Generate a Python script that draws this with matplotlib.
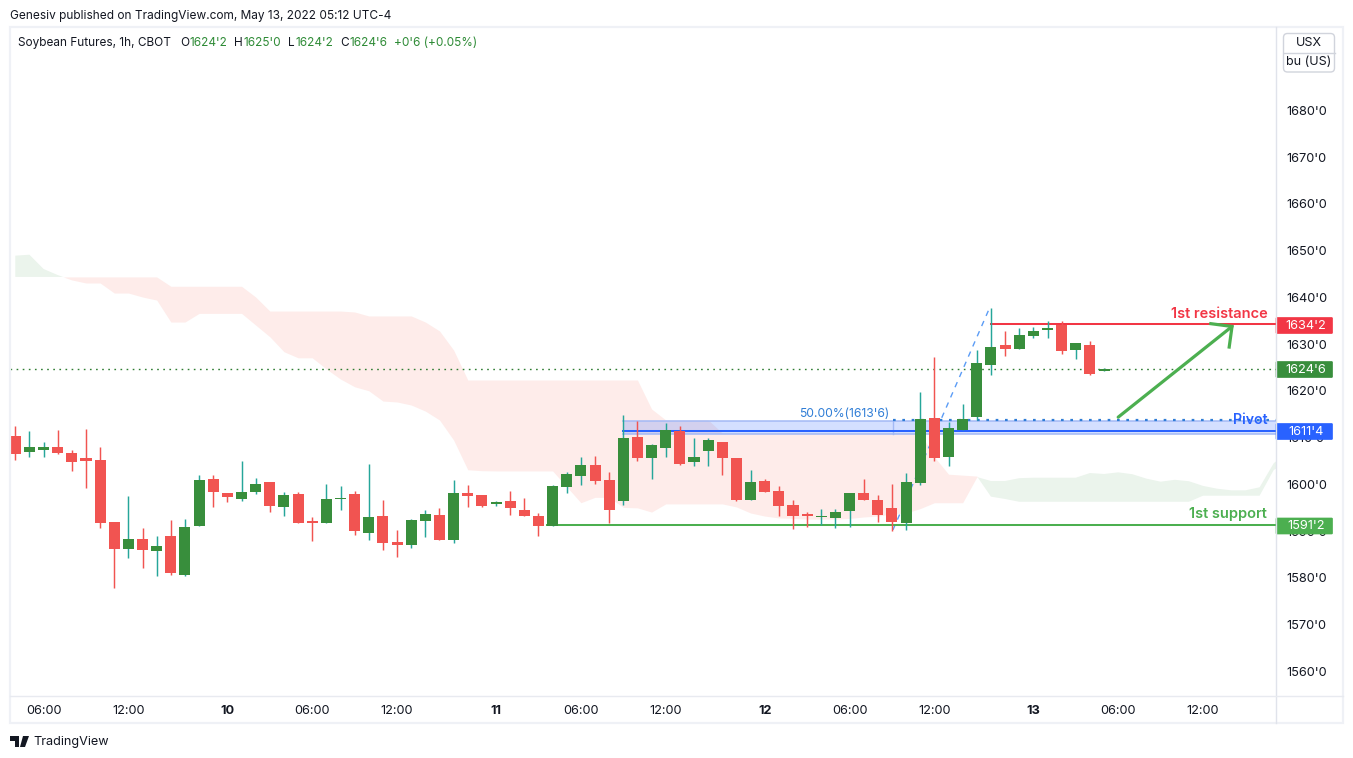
import matplotlib
matplotlib.use("Agg")
import matplotlib.pyplot as plt
from matplotlib.patches import Rectangle, FancyBboxPatch, Polygon
import numpy as np

plt.rcParams['font.family'] = ['Inter', 'DejaVu Sans']

# --- candles (price in cents) ---
opens = [1610.4,1607,1607.4,1608,1606.75,1605.7,1605.25,1592,1586.2,1588.35,1585.8,1589,1580.65,1591.1,1601.2,1598.2,1596.9,1598.4,1600.5,1595.2,1598,1592.2,
         1591.75,1596.9,1598,1589.6,1593.3,1587.7,1587.05,1592.2,1593.5,1588.1,1598.2,1597.75,1595.8,1596.5,1594.55,1593.3,1591.1,1599.45,1601.8,1604.2,1601,1596.45,
         1610.15,1605.65,1607.8,1611.45,1604.8,1607.15,1609.1,1605.65,1596.7,1600.75,1598.6,1595.6,1593.7,1593.05,1592.85,1594.3,1598.2,1596.7,1595,1591.75,
         1600.35,1614.25,1605.9,1611.65,1614.45,1625.55,1629.85,1629,1631.75,1633.05,1634.1,1628.75,1629.85,1624.25]
highs = [1612.5,1611.45,1609.1,1611.65,1607.4,1611.9,1608,1592,1597.5,1590.7,1589,1592.4,1592.6,1602,1602,1598.2,1605,1601.4,1600.5,1598.4,1598.4,1593,
         1600.1,1599.7,1598.6,1604.4,1596.7,1590.25,1592.6,1594.55,1595,1601,1599.9,1597.75,1596.5,1598.6,1597.1,1593.9,1599.9,1602.7,1605.9,1606.1,1602.7,1614.85,
         1613.6,1608.65,1613.15,1612.5,1609.95,1609.95,1609.1,1605.65,1603.1,1601.15,1599.65,1596.7,1594.1,1594.75,1594.75,1598.2,1601.15,1597.75,1600.1,1602.45,
         1619.8,1627.3,1613.4,1617.2,1628.75,1637.75,1632.85,1633.5,1633.7,1635,1635,1630.25,1630.7,1625]
lows = [1605.25,1605.9,1605.9,1606.5,1602.9,1599.25,1590.7,1577.9,1584.3,1582.1,1580.4,1580.65,1580.4,1591.1,1595.2,1596.25,1596.5,1598,1594.1,1593.3,1591.75,1587.9,
        1591.75,1594.55,1589.2,1588.1,1586,1584.5,1586.4,1588.8,1588.1,1587.5,1595.2,1595.2,1595.4,1593.5,1593.3,1589,1591.1,1598.2,1599.9,1600.1,1591.75,1595.6,
        1605,1601.15,1605.9,1604.15,1603.95,1603.95,1602,1596.45,1596.7,1598.4,1593.25,1590.5,1590.9,1591.35,1590.7,1590.9,1596.7,1592,1590.05,1590.25,
        1599.9,1605,1603.95,1611.65,1613.8,1623.4,1627.5,1629,1631.35,1631.35,1627.9,1626.85,1623.4,1624.25]
closes = [1606.6,1608,1608,1606.75,1604.8,1605,1591.75,1586.2,1588.35,1586,1586.85,1581.1,1590.9,1601,1598.4,1597.3,1598.4,1600.1,1595.4,1597.75,1591.75,1591.75,
          1596.9,1597.1,1590.05,1593,1587.5,1587.05,1592.4,1593.7,1588.1,1598.2,1597.55,1595.4,1596.25,1595,1593.3,1591.1,1599.7,1602.25,1604.2,1600.75,1594.55,1609.95,
          1605.65,1608.45,1611.65,1604.4,1605.9,1609.5,1605.65,1596.7,1600.55,1598.4,1595.4,1593.25,1593.25,1593.2,1594.1,1598.2,1596.7,1593.5,1592,1600.55,
          1614,1605.65,1612.1,1614,1626,1629.4,1629,1632,1632.85,1633.5,1628.55,1630.25,1623.65,1624.75]

# --- Ichimoku spans ---
span_a = [1648.95,1649.15,1646.1,1644.8,1643.75,1643.1,1643.1,1640.95,1640.95,1640.1,1639.45,1634.75,1634.75,1636.6,1636.6,1636.6,1636.6,1634.1,1631.6,1628.4,1627.1,1627.1,
          1624.7,1622.55,1620.9,1620.05,1617.85,1617.65,1617,1615.7,1613.8,1609.5,1603.15,1602.95,1602.9,1602.9,1602.9,1602.9,1602.9,1599.5,1596.1,1597.25,1597.25,1595.1,
          1595,1594.1,1595.85,1595.85,1595.85,1595.85,1595.85,1595.2,1593.9,1593.25,1592.85,1592.75,1592.6,1592.6,1592.6,1592.75,1593.05,1593.25,1593.7,1593.9,
          1594.85,1596.1,1596.1,1596.1,1601.6,1600.75,1600.75,1601.35,1601.45,1601.45,1601.45,1601.45,1602.45,1602.25,1602.6,1602.2,1601.25,1600.6,1601,1600.7,
          1599.7,1599.1,1598.75,1598.75,1599.4,1604.55,1606.95]
span_b = [1644.4,1644.4,1644.4,1644.4,1644.4,1644.4,1644.4,1644.4,1644.4,1644.4,1644.4,1642.4,1642.4,1642.4,1642.4,1642.4,1642.4,1640.1,1637.1,1637.1,1637.1,1637.1,
          1637.1,1637.1,1636.9,1636.05,1636.05,1636.05,1636.05,1634.75,1632.85,1628.75,1622.35,1622.35,1622.35,1622.35,1622.35,1622.35,1622.35,1622.35,1622.35,1622.35,1622.35,1622.35,
          1622.35,1616.15,1613.8,1613.8,1613.8,1613.8,1611,1611,1611,1611,1611,1611,1611,1611,1611,1611,1611,1611,1611,1611,
          1611,1605.9,1602.2,1602,1601.8,1597.4,1596.9,1596.3,1596.3,1596.3,1596.3,1596.3,1596.3,1596.3,1596.3,1596.3,1596.3,1596.3,1596.3,1596.3,
          1597.6,1597.6,1597.6,1597.6,1597.6,1603.1,1604.8]

# --- axis labels and levels ---
y_ticks = [1560,1570,1580,1590,1600,1610,1620,1630,1640,1650,1660,1670,1680]
y_labels = ["1560'0","1570'0","1580'0","1590'0","1600'0","1610'0","1620'0","1630'0","1640'0","1650'0","1660'0","1670'0","1680'0"]
x_ticks = [2,8,15,21,27,34,40,46,53,59,65,72,78,84]
x_labels = ["06:00","12:00","10","06:00","12:00","11","06:00","12:00","12","06:00","12:00","13","06:00","12:00"]
bold_labels = {"10","11","12","13"}
last_price = 1624.75
resistance = 1634.25
pivot = 1611.5
support = 1591.25
fib_level = 1613.75
band_top = 1613.6
band_bottom = 1610.7
fib_trend_x = [62.07, 68.9]
fib_trend_y = [1590.3, 1637.75]
arrow_x = [78.0, 86.05]
arrow_y = [1614.4, 1633.8]
head_x = [84.55, 86.05, 85.85]
head_y = [1634.4, 1633.8, 1629.4]

UP, DOWN, WICK_UP = '#388e3c', '#f15451', '#26a69a'
W, H = 1353, 758
fig = plt.figure(figsize=(W/100, H/100), dpi=100, facecolor='white')

def frac(x0, y0, x1, y1):
    return [x0/W, 1-y1/H, (x1-x0)/W, (y1-y0)/H]

ax = fig.add_axes(frac(10, 27, 1276, 695))
ax.set_xlim(-0.375, 89.16)
ax.set_ylim(1554.97, 1697.86)
for s in ax.spines.values():
    s.set_visible(False)

# cloud
xs = np.arange(len(span_a))
a = np.array(span_a); b = np.array(span_b)
ax.fill_between(xs, a, b, where=a >= b, interpolate=True, color='#ebf4ec', lw=0, zorder=1)
ax.fill_between(xs, a, b, where=a <= b, interpolate=True, color='#feecea', lw=0, zorder=1)

# drawings
ax.axhline(last_price, color='#2f7d32', lw=1, ls=(0, (1.2, 3.2)), zorder=2)
ax.fill_between([43, 90], band_bottom, band_top, color='#2962ff', alpha=0.2, lw=0, zorder=2)
for lv in (band_top, band_bottom):
    ax.plot([43, 90], [lv, lv], color='#a3b9f5', lw=1.1, zorder=2)
ax.plot([62.07, 62.07], [band_bottom, band_top], color='#a3b9f5', lw=1, zorder=2)
ax.plot([62.07, 90], [fib_level, fib_level], color='#2f7dd6', lw=1.6, ls=(0, (1.2, 3.0)), zorder=2.2)
ax.plot(fib_trend_x, fib_trend_y, color='#5b9cf6', lw=1, ls=(0, (4, 4)), zorder=2.2)
ax.plot([43, 90], [pivot, pivot], color='#2962ff', lw=1.45, zorder=2.3)
ax.plot([37.6, 90], [support, support], color='#4caf50', lw=1.45, zorder=2.3)
ax.plot([69, 90], [resistance, resistance], color='#f23645', lw=1.45, zorder=2.3)
ax.plot(arrow_x, arrow_y, color='#4caf50', lw=2.3, zorder=3, solid_capstyle='round')
ax.plot(head_x, head_y, color='#4caf50', lw=2.3, zorder=3, solid_joinstyle='miter')

# candles
o, h, l, c = map(np.array, (opens, highs, lows, closes))
idx = np.arange(len(o))
up = c >= o
ax.vlines(idx[up], l[up], h[up], color=WICK_UP, lw=1.05, zorder=4)
ax.vlines(idx[~up], l[~up], h[~up], color=DOWN, lw=1.05, zorder=4)
ax.bar(idx[up], (c-o)[up], bottom=o[up], width=0.78, color=UP, lw=0, zorder=5)
ax.bar(idx[~up], (c-o)[~up], bottom=o[~up], width=0.78, color=DOWN, lw=0, zorder=5)

# annotations on the chart
ax.text(61.8, 1615.1, "50.00%(1613'6)", color='#2f7dd6', fontsize=8.7, ha='right', va='center', zorder=6)
ax.text(88.6, 1636.4, "1st resistance", color='#f23645', fontsize=10.5, fontweight='semibold', ha='right', va='center', zorder=6)
ax.text(88.6, 1613.75, "Pivot", color='#2962ff', fontsize=10.2, fontweight='semibold', ha='right', va='center', zorder=6)
ax.text(88.55, 1593.6, "1st support", color='#4caf50', fontsize=10.5, fontweight='semibold', ha='right', va='center', zorder=6)

# axes ticks
ax.yaxis.tick_right()
ax.set_yticks(y_ticks, y_labels)
ax.set_xticks(x_ticks, x_labels)
ax.tick_params(axis='both', length=0, labelsize=9.2, colors='#131722')
ax.tick_params(axis='y', pad=7.5)
ax.tick_params(axis='x', pad=7.5)
for t in ax.get_xticklabels():
    if t.get_text() in bold_labels:
        t.set_fontweight('bold')

# overlay in pixel coordinates
ov = fig.add_axes([0, 0, 1, 1], zorder=10)
ov.set_xlim(0, W); ov.set_ylim(H, 0); ov.axis('off'); ov.patch.set_alpha(0)
frame = '#eff1f6'
ov.add_patch(Rectangle((10, 27), 1333, 696, fill=False, ec=frame, lw=1.6))
ov.plot([1276, 1276], [27, 723], color='#e0e3eb', lw=1)
ov.plot([10, 1343], [695.5, 695.5], color='#e8eaf0', lw=1)

# price tags
for yp, col, txt in [(325.5, '#f23645', "1634'2"), (369.5, '#388e3c', "1624'6"),
                     (431.5, '#2962ff', "1611'4"), (526, '#4caf50', "1591'2")]:
    ov.add_patch(FancyBboxPatch((1276, yp-8), 56.5, 16, boxstyle='round,pad=0,rounding_size=1', fc=col, ec=col, lw=0.5))
    ov.text(1306, yp+0.3, txt, color='white', fontsize=9.2, ha='center', va='center')

# unit box
ov.add_patch(FancyBboxPatch((1283.5, 33.5), 51, 38.5, boxstyle='round,pad=0,rounding_size=4', fc='white', ec='#d1d4dc', lw=1))
ov.plot([1283.5, 1334.5], [52.5, 52.5], color='#d1d4dc', lw=1)
ov.text(1309, 43, "USX", fontsize=9, color='#131722', ha='center', va='center')
ov.text(1309, 62, "bu (US)", fontsize=9, color='#131722', ha='center', va='center')

# header
ov.text(10, 15.5, "Genesiv published on TradingView.com, May 13, 2022 05:12 UTC-4", fontsize=8.55, color='#131722', va='center')
G = '#2e8b36'; K = '#131722'
for x, s, col in [(18, "Soybean Futures, 1h, CBOT", K), (180, "O", K), (189.3, "1624'2", G), (234.3, "H", K), (243, "1625'0", G),
                  (288, "L", K), (295, "1624'2", G), (340, "C", K), (349.3, "1624'6", G), (394, "+0'6 (+0.05%)", G)]:
    ov.text(x, 43, s, fontsize=8.5, color=col, va='center')

# footer logo
for pts in ([(10, 736), (19, 736), (19, 747), (15, 747), (15, 741), (10, 741)],
            [(23, 736), (29, 736), (25, 747), (20, 747)]):
    ov.add_patch(Polygon(pts, closed=True, fc='#131722', ec='none'))
ov.text(33, 741.5, "TradingView", fontsize=9.1, color='#131722', va='center')

fig.savefig('out.png', dpi=100)
